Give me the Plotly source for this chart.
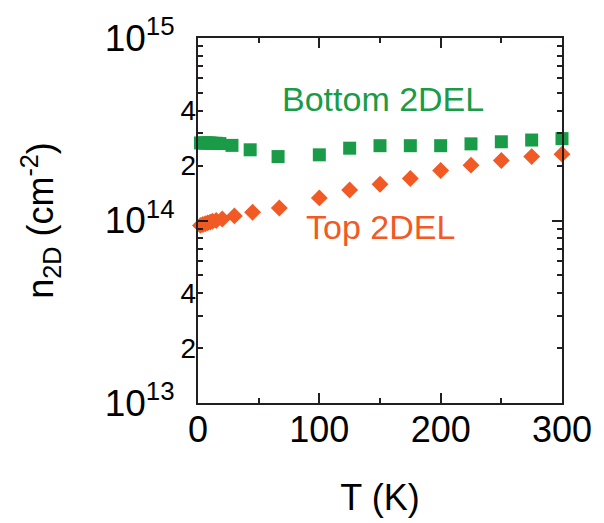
import plotly.graph_objects as go

# ---- data ----
T_bottom = [2, 4, 6, 8, 10, 12, 15, 18, 28, 43, 66, 100, 125, 150, 175, 200, 225, 250, 275, 300]
n_bottom = [2.66e14, 2.66e14, 2.66e14, 2.66e14, 2.66e14, 2.65e14, 2.65e14, 2.64e14, 2.58e14, 2.44e14,
            2.24e14, 2.29e14, 2.49e14, 2.57e14, 2.57e14, 2.57e14, 2.63e14, 2.70e14, 2.76e14, 2.81e14]

T_top = [2, 4, 6, 8, 10, 12, 15, 20, 30, 45, 67, 100, 125, 150, 175, 200, 225, 250, 275, 300]
n_top = [9.4e13, 9.5e13, 9.6e13, 9.7e13, 9.8e13, 9.9e13, 1.0e14, 1.02e14, 1.06e14, 1.11e14,
         1.17e14, 1.33e14, 1.47e14, 1.58e14, 1.70e14, 1.88e14, 2.01e14, 2.13e14, 2.24e14, 2.31e14]

x_ticks = [0, 100, 200, 300]
x_minor = [50, 150, 250]
y_major = [1e13, 1e14, 1e15]
y_major_text = ["10<sup>13</sup>", "10<sup>14</sup>", "10<sup>15</sup>"]
y_minor = [k * 10 ** e for e in (13, 14) for k in range(2, 10)]
y_lab = [2e13, 4e13, 2e14, 4e14]
y_lab_text = ["2", "4", "2", "4"]

GREEN = "#199B48"
ORANGE = "#F15A24"
AX = "#231F20"
FONT = "Liberation Sans, Arial, sans-serif"

fig = go.Figure()
fig.add_trace(go.Scatter(x=T_bottom, y=n_bottom, mode="markers", cliponaxis=False,
                         marker=dict(symbol="square", size=13, color=GREEN, line=dict(width=0)),
                         showlegend=False))
fig.add_trace(go.Scatter(x=T_top, y=n_top, mode="markers", cliponaxis=False,
                         marker=dict(symbol="diamond", size=13, color=ORANGE, line=dict(width=0)),
                         showlegend=False))
# dummy trace to anchor the secondary labelling axis
fig.add_trace(go.Scatter(x=[150], y=[1e14], yaxis="y2", mode="markers",
                         marker=dict(opacity=0), hoverinfo="skip", showlegend=False))

fig.add_annotation(x=152.5, y=14.665, xref="x", yref="y", text="Bottom 2DEL", showarrow=False,
                   font=dict(size=34, color=GREEN, family=FONT), xanchor="center", yanchor="middle")
fig.add_annotation(x=150.5, y=13.963, xref="x", yref="y", text="Top 2DEL", showarrow=False,
                   font=dict(size=34, color=ORANGE, family=FONT), xanchor="center", yanchor="middle")

fig.update_layout(
    width=604, height=523,
    margin=dict(l=198, r=32, t=31, b=120),
    paper_bgcolor="white", plot_bgcolor="white",
    font=dict(family=FONT, color="black"),
    xaxis=dict(range=[0, 300], tickvals=x_ticks, ticks="inside", ticklen=10, tickwidth=1.5,
               tickcolor=AX, showline=True, linewidth=2, linecolor=AX, mirror="ticks",
               showgrid=False, zeroline=False, tickfont=dict(size=36),
               ticklabelstandoff=-6,
               minor=dict(tickvals=x_minor, ticks="inside", ticklen=5, tickwidth=1.5, tickcolor=AX,
                          showgrid=False),
               title=dict(text="T (K)", font=dict(size=36), standoff=36)),
    yaxis=dict(type="log", range=[13, 15], tickvals=y_major, ticktext=y_major_text,
               ticks="inside", ticklen=10, tickwidth=1.5, tickcolor=AX,
               showline=True, linewidth=2, linecolor=AX, mirror="ticks",
               showgrid=False, zeroline=False, tickfont=dict(size=37),
               ticklabelstandoff=14,
               minor=dict(tickvals=y_minor, ticks="inside", ticklen=5, tickwidth=1.5, tickcolor=AX,
                          showgrid=False),
               title=dict(text="n<sub>2D</sub> (cm<sup>-2</sup>)", font=dict(size=36), standoff=40)),
    yaxis2=dict(type="log", range=[13, 15], overlaying="y", side="left", anchor="x",
                tickvals=y_lab, ticktext=y_lab_text, ticks="", showline=False,
                showgrid=False, zeroline=False, tickfont=dict(size=28), ticklabelstandoff=1),
)

fig.write_html("out.html")
